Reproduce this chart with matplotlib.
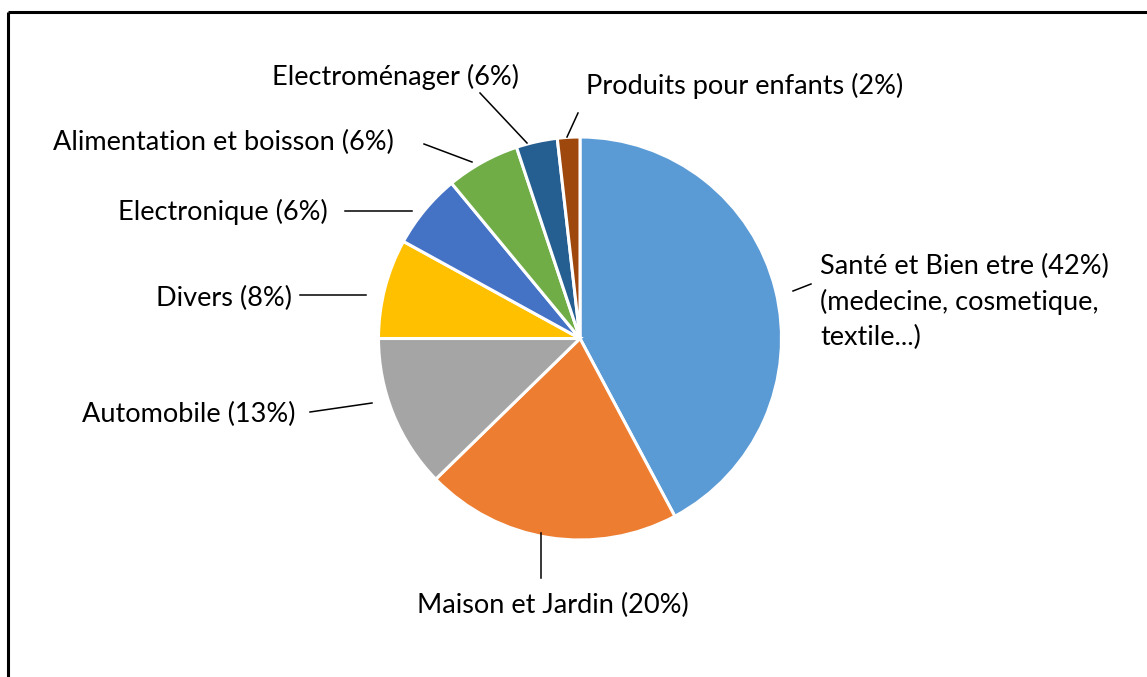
import matplotlib
matplotlib.use('Agg')
import matplotlib.pyplot as plt

# donnees
categories = ['Santé et Bien etre (42%)\n(medecine, cosmetique,\ntextile...)',
              'Maison et Jardin (20%)', 'Automobile (13%)', 'Divers (8%)',
              'Electronique (6%)', 'Alimentation et boisson (6%)',
              'Electroménager (6%)', 'Produits pour enfants (2%)']
valeurs = [42.2, 20.5, 12.3, 8.0, 6.0, 5.9, 3.3, 1.8]
couleurs = ['#5B9BD5', '#ED7D31', '#A5A5A5', '#FFC000',
            '#4472C4', '#70AD47', '#255E91', '#9E480E']

W, H = 1147, 677
def py(y):
    return H - y

plt.rcParams['font.family'] = ['Lato', 'DejaVu Sans']

fig = plt.figure(figsize=(W / 100, H / 100), dpi=100)
ax = fig.add_axes([0, 0, 1, 1])

ax.pie(valeurs, colors=couleurs, startangle=90, counterclock=False,
       center=(580, py(338.5)), radius=201.5,
       wedgeprops=dict(edgecolor='white', linewidth=2.2))
ax.set_xlim(0, W)
ax.set_ylim(0, H)
ax.set_aspect('equal')
ax.axis('off')

# position des etiquettes (centre du texte) et lignes de rappel
pos_etiq = [(820, 302), (553, 605), (189, 414), (223.5, 298),
            (223, 212), (223, 142), (396, 77), (745, 86)]
align = ['left', 'center', 'center', 'center', 'center', 'center', 'center', 'center']
lignes = [((793, 291), (811, 284)), ((541, 533), (541, 578)),
          ((310, 412), (372, 403)), ((300, 295), (366, 295)),
          ((345, 211), (412, 211)), ((424, 144), (472, 162)),
          ((480, 93), (527, 143)), ((578, 113), (567, 137))]

for lab, (x, y), ha in zip(categories, pos_etiq, align):
    ax.text(x, py(y), lab, ha=ha, va='center', fontsize=19.5,
            color='#000000', linespacing=1.5)
for (x1, y1), (x2, y2) in lignes:
    ax.plot([x1, x2], [py(y1), py(y2)], color='black', lw=1.1)

# cadre
ax.plot([8, 8], [py(H + 5), py(12)], color='black', lw=2.2, solid_capstyle='butt')
ax.plot([8, W + 5], [py(12), py(12)], color='black', lw=2.2, solid_capstyle='butt')

plt.savefig('out.png', dpi=100)
